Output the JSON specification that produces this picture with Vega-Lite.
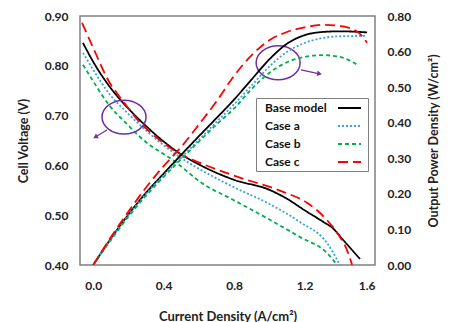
{
  "$schema": "https://vega.github.io/schema/vega-lite/v6.json",
  "width": 295,
  "height": 249,
  "autosize": {"type": "none"},
  "padding": {"left": 80, "top": 16, "right": 78, "bottom": 57},
  "config": {
    "font": "Lato",
    "view": {"stroke": "#808080", "strokeWidth": 1.5},
    "axis": {
      "domain": false,
      "ticks": false,
      "grid": false,
      "labelFont": "Lato",
      "labelFontSize": 12,
      "labelFontWeight": "bold",
      "labelColor": "#222222",
      "titleFont": "Lato",
      "titleFontSize": 12.5,
      "titleFontWeight": "bold",
      "titleColor": "#222222"
    },
    "legend": {
      "orient": "none",
      "legendX": 176,
      "legendY": 82,
      "direction": "vertical",
      "padding": 3,
      "strokeColor": "#808080",
      "fillColor": "white",
      "labelFont": "Lato",
      "labelFontSize": 12,
      "labelFontWeight": "bold",
      "labelColor": "#111111",
      "symbolType": "M -1.92 0 L 1.92 0",
      "symbolSize": 144,
      "symbolStrokeWidth": 1.8,
      "symbolOffset": 83.5,
      "labelOffset": -91.5,
      "rowPadding": 5
    }
  },
  "datasets": {
    "voltage": [
      {"case": "Base model", "j": -0.058, "v": 0.846},
      {"case": "Base model", "j": 0.0, "v": 0.808},
      {"case": "Base model", "j": 0.1, "v": 0.755},
      {"case": "Base model", "j": 0.2, "v": 0.714},
      {"case": "Base model", "j": 0.3, "v": 0.679},
      {"case": "Base model", "j": 0.4, "v": 0.648},
      {"case": "Base model", "j": 0.5, "v": 0.622},
      {"case": "Base model", "j": 0.6, "v": 0.602},
      {"case": "Base model", "j": 0.8, "v": 0.571},
      {"case": "Base model", "j": 1.0, "v": 0.551},
      {"case": "Base model", "j": 1.1, "v": 0.533},
      {"case": "Base model", "j": 1.2, "v": 0.51},
      {"case": "Base model", "j": 1.3, "v": 0.488},
      {"case": "Base model", "j": 1.36, "v": 0.474},
      {"case": "Base model", "j": 1.42, "v": 0.45},
      {"case": "Base model", "j": 1.515, "v": 0.412},
      {"case": "Case a", "j": -0.058, "v": 0.826},
      {"case": "Case a", "j": 0.0, "v": 0.792},
      {"case": "Case a", "j": 0.095, "v": 0.742},
      {"case": "Case a", "j": 0.192, "v": 0.706},
      {"case": "Case a", "j": 0.323, "v": 0.663},
      {"case": "Case a", "j": 0.482, "v": 0.619},
      {"case": "Case a", "j": 0.607, "v": 0.592},
      {"case": "Case a", "j": 0.794, "v": 0.557},
      {"case": "Case a", "j": 0.987, "v": 0.525},
      {"case": "Case a", "j": 1.175, "v": 0.486},
      {"case": "Case a", "j": 1.328, "v": 0.444},
      {"case": "Case a", "j": 1.401, "v": 0.4},
      {"case": "Case b", "j": -0.058, "v": 0.802},
      {"case": "Case b", "j": 0.0, "v": 0.769},
      {"case": "Case b", "j": 0.095, "v": 0.719},
      {"case": "Case b", "j": 0.192, "v": 0.683},
      {"case": "Case b", "j": 0.266, "v": 0.657},
      {"case": "Case b", "j": 0.482, "v": 0.603},
      {"case": "Case b", "j": 0.607, "v": 0.567},
      {"case": "Case b", "j": 0.794, "v": 0.531},
      {"case": "Case b", "j": 0.987, "v": 0.494},
      {"case": "Case b", "j": 1.175, "v": 0.456},
      {"case": "Case b", "j": 1.328, "v": 0.424},
      {"case": "Case b", "j": 1.385, "v": 0.4},
      {"case": "Case c", "j": -0.063, "v": 0.886},
      {"case": "Case c", "j": 0.0, "v": 0.836},
      {"case": "Case c", "j": 0.095, "v": 0.765},
      {"case": "Case c", "j": 0.152, "v": 0.737},
      {"case": "Case c", "j": 0.266, "v": 0.686},
      {"case": "Case c", "j": 0.38, "v": 0.65},
      {"case": "Case c", "j": 0.482, "v": 0.625},
      {"case": "Case c", "j": 0.607, "v": 0.605},
      {"case": "Case c", "j": 0.794, "v": 0.58},
      {"case": "Case c", "j": 1.078, "v": 0.547},
      {"case": "Case c", "j": 1.214, "v": 0.525},
      {"case": "Case c", "j": 1.328, "v": 0.49},
      {"case": "Case c", "j": 1.401, "v": 0.456},
      {"case": "Case c", "j": 1.441, "v": 0.43},
      {"case": "Case c", "j": 1.47, "v": 0.4}
    ],
    "power": [
      {"case": "Base model", "j": 0.0, "p": 0.0},
      {"case": "Base model", "j": 0.1, "p": 0.074},
      {"case": "Base model", "j": 0.2, "p": 0.142},
      {"case": "Base model", "j": 0.3, "p": 0.203},
      {"case": "Base model", "j": 0.4, "p": 0.257},
      {"case": "Base model", "j": 0.5, "p": 0.31},
      {"case": "Base model", "j": 0.6, "p": 0.362},
      {"case": "Base model", "j": 0.7, "p": 0.413},
      {"case": "Base model", "j": 0.8, "p": 0.465},
      {"case": "Base model", "j": 0.9, "p": 0.522},
      {"case": "Base model", "j": 1.0, "p": 0.578},
      {"case": "Base model", "j": 1.1, "p": 0.622},
      {"case": "Base model", "j": 1.2, "p": 0.646},
      {"case": "Base model", "j": 1.3, "p": 0.655},
      {"case": "Base model", "j": 1.4, "p": 0.657},
      {"case": "Base model", "j": 1.555, "p": 0.654},
      {"case": "Case a", "j": 0.0, "p": 0.0},
      {"case": "Case a", "j": 0.1, "p": 0.073},
      {"case": "Case a", "j": 0.2, "p": 0.14},
      {"case": "Case a", "j": 0.3, "p": 0.2},
      {"case": "Case a", "j": 0.4, "p": 0.252},
      {"case": "Case a", "j": 0.5, "p": 0.302},
      {"case": "Case a", "j": 0.6, "p": 0.352},
      {"case": "Case a", "j": 0.7, "p": 0.402},
      {"case": "Case a", "j": 0.8, "p": 0.452},
      {"case": "Case a", "j": 0.9, "p": 0.505},
      {"case": "Case a", "j": 1.0, "p": 0.558},
      {"case": "Case a", "j": 1.1, "p": 0.599},
      {"case": "Case a", "j": 1.2, "p": 0.624},
      {"case": "Case a", "j": 1.3, "p": 0.638},
      {"case": "Case a", "j": 1.4, "p": 0.643},
      {"case": "Case a", "j": 1.555, "p": 0.644},
      {"case": "Case b", "j": 0.0, "p": 0.0},
      {"case": "Case b", "j": 0.1, "p": 0.07},
      {"case": "Case b", "j": 0.2, "p": 0.136},
      {"case": "Case b", "j": 0.3, "p": 0.195},
      {"case": "Case b", "j": 0.4, "p": 0.248},
      {"case": "Case b", "j": 0.5, "p": 0.298},
      {"case": "Case b", "j": 0.6, "p": 0.347},
      {"case": "Case b", "j": 0.7, "p": 0.395},
      {"case": "Case b", "j": 0.8, "p": 0.44},
      {"case": "Case b", "j": 0.9, "p": 0.495},
      {"case": "Case b", "j": 1.0, "p": 0.54},
      {"case": "Case b", "j": 1.1, "p": 0.57},
      {"case": "Case b", "j": 1.2, "p": 0.585},
      {"case": "Case b", "j": 1.3, "p": 0.59},
      {"case": "Case b", "j": 1.4, "p": 0.585},
      {"case": "Case b", "j": 1.5, "p": 0.563},
      {"case": "Case c", "j": 0.0, "p": 0.0},
      {"case": "Case c", "j": 0.1, "p": 0.078},
      {"case": "Case c", "j": 0.2, "p": 0.15},
      {"case": "Case c", "j": 0.3, "p": 0.218},
      {"case": "Case c", "j": 0.4, "p": 0.278},
      {"case": "Case c", "j": 0.5, "p": 0.332},
      {"case": "Case c", "j": 0.6, "p": 0.395},
      {"case": "Case c", "j": 0.7, "p": 0.46},
      {"case": "Case c", "j": 0.8, "p": 0.532},
      {"case": "Case c", "j": 0.9, "p": 0.59},
      {"case": "Case c", "j": 1.0, "p": 0.632},
      {"case": "Case c", "j": 1.1, "p": 0.655},
      {"case": "Case c", "j": 1.2, "p": 0.668},
      {"case": "Case c", "j": 1.3, "p": 0.675},
      {"case": "Case c", "j": 1.4, "p": 0.672},
      {"case": "Case c", "j": 1.5, "p": 0.656},
      {"case": "Case c", "j": 1.555, "p": 0.625}
    ],
    "callouts": [
      {"j": 0.175, "v": 0.697},
      {"j": 1.05, "v": 0.806}
    ],
    "arrows": [
      {"arrow": "voltage", "j": 0.078, "v": 0.671, "j2": 0.012, "v2": 0.657},
      {"arrow": "power", "j": 1.18, "v": 0.792, "j2": 1.285, "v2": 0.784}
    ]
  },
  "layer": [
    {
      "layer": [
        {
          "data": {"name": "voltage"},
          "mark": {"type": "line", "interpolate": "monotone", "strokeWidth": 1.8, "clip": true},
          "encoding": {
            "x": {
              "field": "j", "type": "quantitative",
              "scale": {"domain": [-0.075, 1.6], "nice": false, "zero": false},
              "axis": {"values": [0, 0.4, 0.8, 1.2, 1.6], "format": ".1f", "labelPadding": 15, "title": "Current Density (A/cm²)", "titleFontSize": 13, "titlePadding": 19}
            },
            "y": {
              "field": "v", "type": "quantitative",
              "scale": {"domain": [0.4, 0.9], "nice": false, "zero": false},
              "axis": {"orient": "left", "values": [0.4, 0.5, 0.6, 0.7, 0.8, 0.9], "format": ".2f", "labelPadding": 12, "title": "Cell Voltage (V)", "titlePadding": 14}
            },
            "color": {
              "field": "case", "type": "nominal",
              "scale": {"domain": ["Base model", "Case a", "Case b", "Case c"], "range": ["#000000", "#3D9FE3", "#00B050", "#FF0000"]},
              "legend": {"title": null}
            },
            "strokeDash": {
              "field": "case", "type": "nominal",
              "scale": {"domain": ["Base model", "Case a", "Case b", "Case c"], "range": [[1, 0], [2, 2], [4, 3], [10, 5]]},
              "legend": {"title": null}
            }
          }
        },
        {
          "data": {"name": "callouts"},
          "mark": {
            "type": "point",
            "shape": "M -1 0 C -1 -0.425 -0.552 -0.77 0 -0.77 C 0.552 -0.77 1 -0.425 1 0 C 1 0.425 0.552 0.77 0 0.77 C -0.552 0.77 -1 0.425 -1 0 Z",
            "size": 1936,
            "filled": false,
            "stroke": "#7030A0",
            "strokeWidth": 1.5,
            "opacity": 1
          },
          "encoding": {
            "x": {"field": "j", "type": "quantitative"},
            "y": {"field": "v", "type": "quantitative"}
          }
        },
        {
          "data": {"name": "arrows"},
          "mark": {"type": "rule", "color": "#7030A0", "strokeWidth": 1.3},
          "encoding": {
            "x": {"field": "j", "type": "quantitative"},
            "y": {"field": "v", "type": "quantitative"},
            "x2": {"field": "j2"},
            "y2": {"field": "v2"}
          }
        },
        {
          "data": {"name": "arrows"},
          "transform": [{"filter": "datum.arrow === 'voltage'"}],
          "mark": {"type": "point", "shape": "triangle-up", "size": 30, "filled": true, "color": "#7030A0", "opacity": 1, "angle": 240},
          "encoding": {
            "x": {"field": "j2", "type": "quantitative"},
            "y": {"field": "v2", "type": "quantitative"}
          }
        },
        {
          "data": {"name": "arrows"},
          "transform": [{"filter": "datum.arrow === 'power'"}],
          "mark": {"type": "point", "shape": "triangle-up", "size": 30, "filled": true, "color": "#7030A0", "opacity": 1, "angle": 102},
          "encoding": {
            "x": {"field": "j2", "type": "quantitative"},
            "y": {"field": "v2", "type": "quantitative"}
          }
        }
      ]
    },
    {
      "data": {"name": "power"},
      "mark": {"type": "line", "interpolate": "monotone", "strokeWidth": 1.8, "clip": true},
      "encoding": {
        "x": {"field": "j", "type": "quantitative"},
        "y": {
          "field": "p", "type": "quantitative",
          "scale": {"domain": [0, 0.7], "nice": false},
          "axis": {
            "orient": "right",
            "values": [0, 0.1, 0.2, 0.3, 0.4, 0.5, 0.6, 0.7],
            "labelExpr": "datum.value > 0.65 ? '0.80' : format(datum.value, '.2f')",
            "labelPadding": 12,
            "title": "Output Power Density (W/cm²)",
            "titleAngle": -90,
            "titleBaseline": "top",
            "titlePadding": 17
          }
        },
        "color": {"field": "case", "type": "nominal", "legend": {"title": null}},
        "strokeDash": {"field": "case", "type": "nominal", "legend": {"title": null}}
      }
    }
  ],
  "resolve": {"scale": {"y": "independent"}}
}
